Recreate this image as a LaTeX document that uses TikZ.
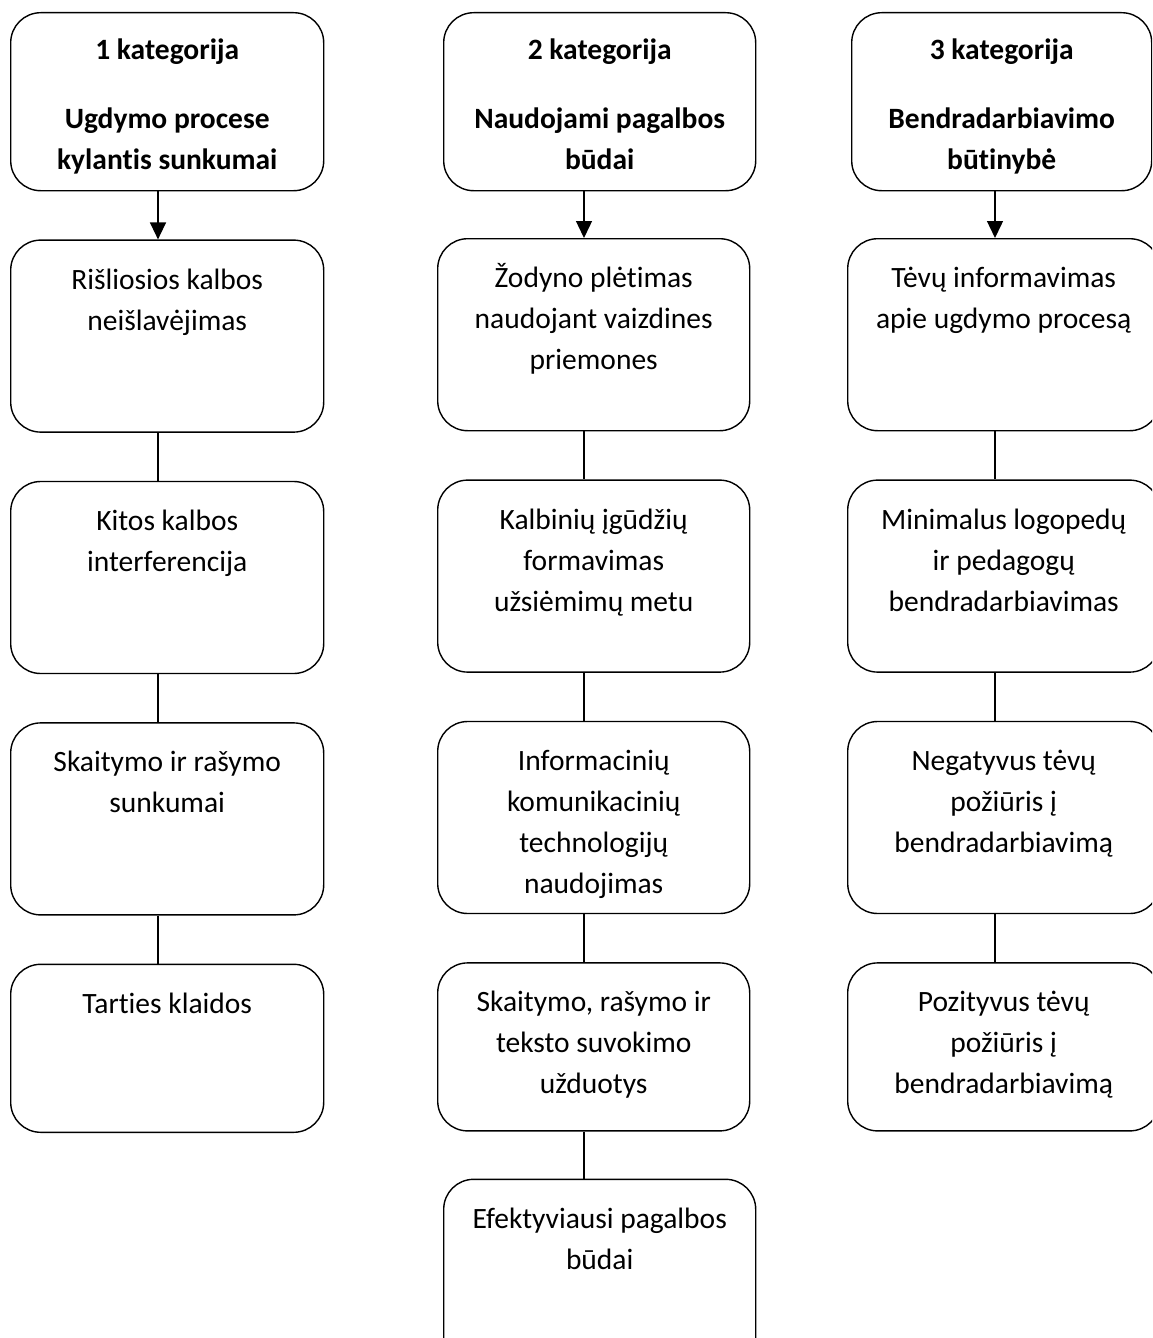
\documentclass[tikz,border=0pt]{standalone}
\usepackage{fontspec}
\setmainfont{Carlito}[Ligatures=NoCommon]
\usepackage{tikz}
\usetikzlibrary{positioning,arrows.meta}
\newcommand{\cardtext}[3]{\parbox[t][#1][t]{300pt}{\centering\rule{0pt}{#2}#3}}

\begin{document}
\begin{tikzpicture}[x=1pt, y=-1pt,
    card/.style={draw=black, line width=1.4pt, rounded corners=30pt, inner sep=0pt, minimum width=312pt, font=\fontsize{29.5pt}{41pt}\selectfont},
    head/.style={card, font=\fontsize{29.5pt}{41pt}\selectfont\bfseries},
    link/.style={draw=black, line width=1.4pt},
    arr/.style={link, -{Triangle[length=17pt,width=16pt]}}
]
    \clip (0,0) rectangle (1152,1338);

    % Column 1
    \node[head, minimum width=313pt, anchor=north west] (h1) at (10,12) {\cardtext{178pt}{47pt}{1 kategorija\\[28pt] Ugdymo procese\\ kylantis sunkumai}};
    \node[card, minimum width=313pt, below=48pt of h1] (b11) {\cardtext{192pt}{49pt}{Rišliosios kalbos\\ neišlavėjimas}};
    \node[card, minimum width=313pt, below=48pt of b11] (b12) {\cardtext{192pt}{49pt}{Kitos kalbos\\ interferencija}};
    \node[card, minimum width=313pt, below=48pt of b12] (b13) {\cardtext{192pt}{49pt}{Skaitymo ir rašymo\\ sunkumai}};
    \node[card, minimum width=313pt, below=48pt of b13] (b14) {\cardtext{168pt}{49pt}{Tarties klaidos}};

    % Column 2
    \node[head, anchor=north west] (h2) at (443,12) {\cardtext{178pt}{47pt}{2 kategorija\\[28pt] Naudojami pagalbos\\ būdai}};
    \node[card, anchor=north west] (b21) at (437,238) {\cardtext{192pt}{49pt}{Žodyno plėtimas\\ naudojant vaizdines\\ priemones}};
    \node[card, below=48pt of b21] (b22) {\cardtext{192pt}{49pt}{Kalbinių įgūdžių\\ formavimas\\ užsiėmimų metu}};
    \node[card, below=48pt of b22] (b23) {\cardtext{192pt}{49pt}{Informacinių\\ komunikacinių\\ technologijų\\ naudojimas}};
    \node[card, below=48pt of b23] (b24) {\cardtext{168pt}{49pt}{Skaitymo, rašymo ir\\ teksto suvokimo\\ užduotys}};
    \node[card, below=47pt of b24, xshift=6pt] (b25) {\cardtext{192pt}{49pt}{Efektyviausi pagalbos\\ būdai}};

    % Column 3
    \node[head, minimum width=300pt, anchor=north west] (h3) at (851,12) {\cardtext{178pt}{47pt}{3 kategorija\\[28pt] Bendradarbiavimo\\ būtinybė}};
    \node[card, anchor=north west] (b31) at (847,238) {\cardtext{192pt}{49pt}{Tėvų informavimas\\ apie ugdymo procesą}};
    \node[card, below=48pt of b31] (b32) {\cardtext{192pt}{49pt}{Minimalus logopedų\\ ir pedagogų\\ bendradarbiavimas}};
    \node[card, below=48pt of b32] (b33) {\cardtext{192pt}{49pt}{Negatyvus tėvų\\ požiūris į\\ bendradarbiavimą}};
    \node[card, below=48pt of b33] (b34) {\cardtext{168pt}{49pt}{Pozityvus tėvų\\ požiūris į\\ bendradarbiavimą}};

    % Connectors
    \coordinate (c1) at (158,0);
    \coordinate (c2) at (584,0);
    \coordinate (c3) at (995,0);
    \foreach \c in {1,2,3}
        \draw[arr] (h\c.south -| c\c) -- (b\c1.north -| c\c);
    \foreach \c/\a/\b in {1/b11/b12, 1/b12/b13, 1/b13/b14,
                          2/b21/b22, 2/b22/b23, 2/b23/b24, 2/b24/b25,
                          3/b31/b32, 3/b32/b33, 3/b33/b34}
        \draw[link] (\a.south -| c\c) -- (\b.north -| c\c);
\end{tikzpicture}
\end{document}
